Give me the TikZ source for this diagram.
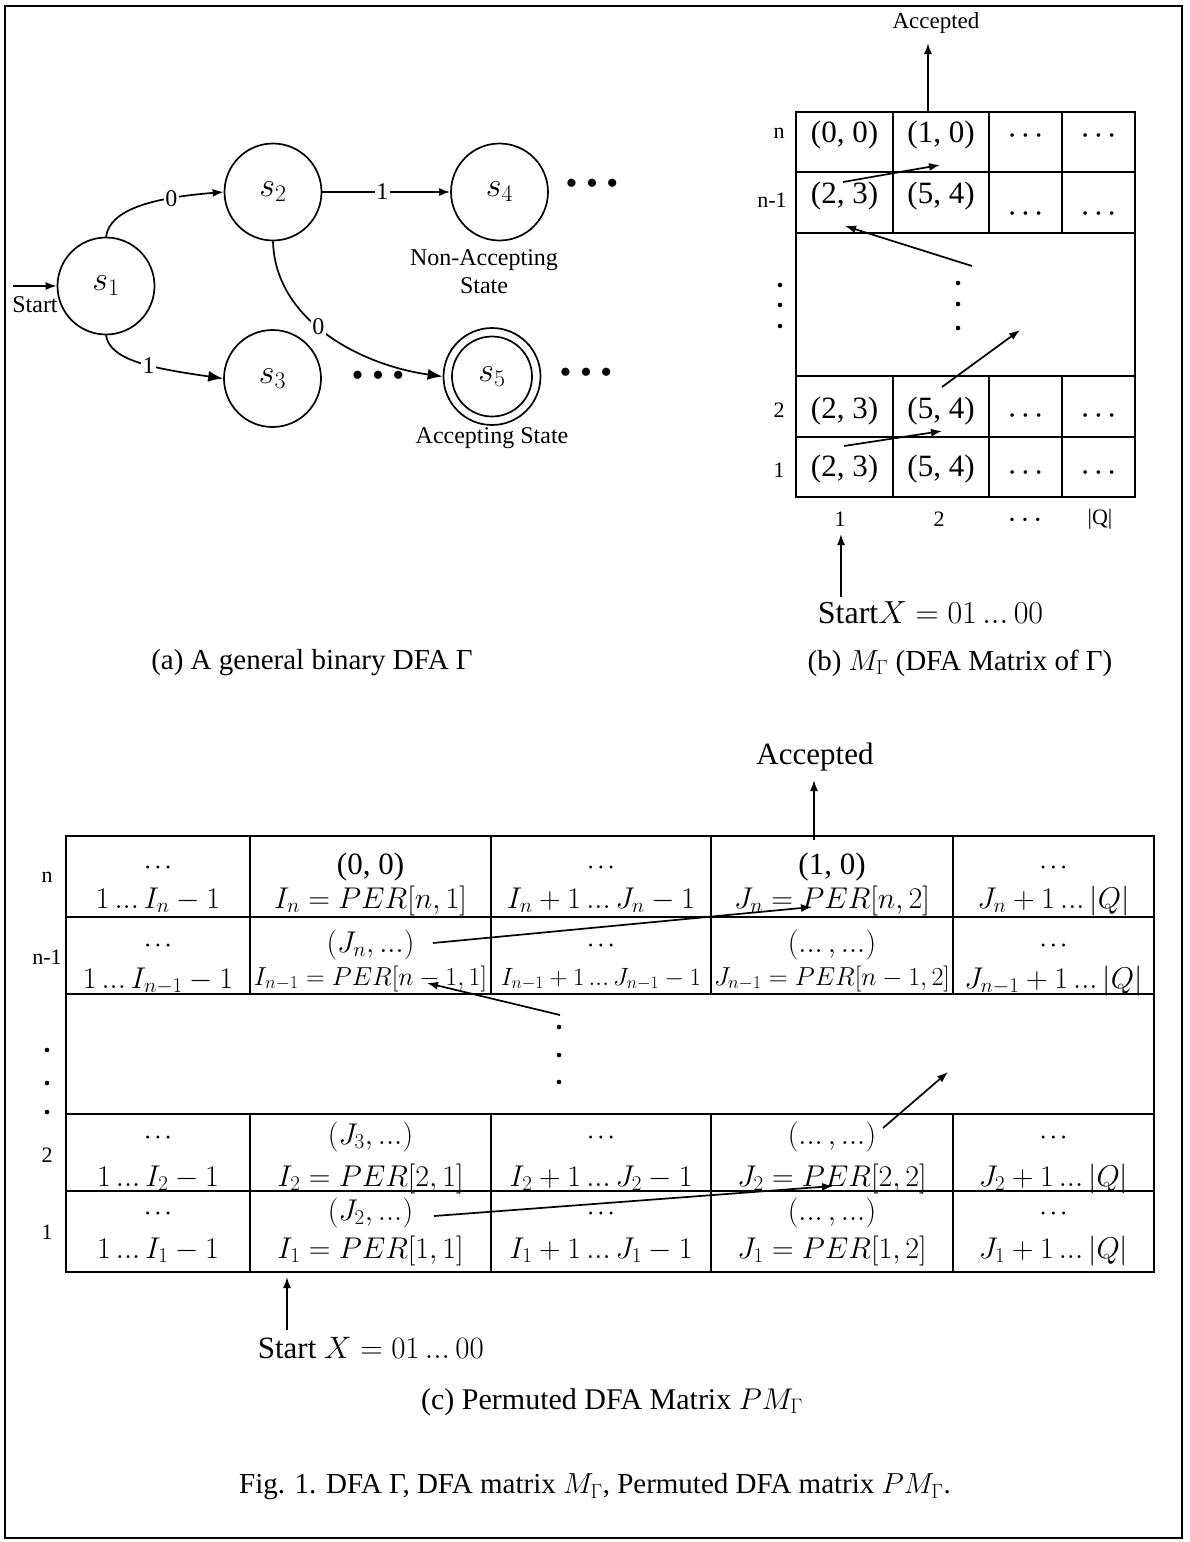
\documentclass[tikz,border=0pt]{standalone}
\usepackage{fix-cm}
\usepackage{fontspec}
\setmainfont{Liberation Serif}
\usetikzlibrary{arrows.meta}
\newcommand\fsz[1]{\fontsize{#1}{#1}\selectfont}
\newcommand\eld{\mathinner{{.}{.}{.}}}
\newcommand\hd[2]{{\fontsize{#1}{#1}\selectfont •\hspace{#2}•\hspace{#2}•}}
\begin{document}
\begin{tikzpicture}[x=1pt,y=-1pt,line width=1.7pt,
  stnode/.style={draw,circle,minimum size=97pt,inner sep=0pt,font=\fsz{34}},
  txt/.style={font=\fsz{24},inner sep=1pt},
  elbl/.style={font=\fsz{24},fill=white,inner sep=1.5pt},
  captn/.style={font=\fsz{29}},
  rl/.style={font=\fsz{22}},
  ce/.style={font=\fsz{31},anchor=base},
  mb/.style={font=\fsz{30},anchor=base},
  sm/.style={font=\fsz{26},anchor=base},
  bd/.style={anchor=base,inner sep=0pt},
  sarr/.style={-{Latex[length=11pt,width=8pt]}},
  barr/.style={-{Latex[length=15pt,width=11pt]}},
  gridl/.style={line width=1.4pt},
  dotn/.style={fill=black,circle,inner sep=0pt,minimum size=4.6pt}]
\useasboundingbox (0,0) rectangle (1189,1542);
\draw[line width=1.5pt] (5,6) rectangle (1182,1538);

% ---------- (a) DFA ----------
\node[stnode] (s1) at (106,286) {$s_1$};
\node[stnode] (s2) at (273,192) {$s_2$};
\node[stnode] (s3) at (272.5,378.5) {$s_3$};
\node[stnode] (s4) at (499.5,192) {$s_4$};
\node[stnode] (s5) at (492,376.5) {$s_5$};
\draw (s5.center) circle[radius=40];
\coordinate (st) at (13,286);
\draw[sarr] (st) -- (s1.west);
\node[txt] (stl) at (35,305) {Start};
\draw[sarr] (s1.north) .. controls (110,210) and (150,198) .. (s2.west) node[pos=0.73,elbl] {0};
\draw[barr] (s1.south) .. controls (110,360) and (150,368) .. (s3.west) node[pos=0.58,elbl] {1};
\draw[barr] (s2.south) .. controls (275,320) and (360,365) .. (s5.west) node[pos=0.45,elbl] {0};
\draw[sarr] (s2.east) -- (s4.west) node[pos=0.47,elbl] {1};
\node[font=\fsz{34}] (d4) at (592,187) {• • •};
\node[font=\fsz{34}] (d3) at (378,379) {• • •};
\node[font=\fsz{34}] (d5) at (586,376) {• • •};
\node[font=\fontsize{24}{28}\selectfont,align=center] (na) at (484,272) {Non-Accepting\\State};
\node[txt] (ac) at (492,438) {Accepting State};
\node[captn] (capa) at (312,663) {(a) A general binary DFA Γ};

% ---------- (b) DFA matrix ----------
\draw[gridl] (796,112) rectangle (1135,497);
\foreach \y in {172,233,376,437} \draw[gridl] (796,\y) -- (1135,\y);
\foreach \x in {893,989,1062} {\draw[gridl] (\x,112) -- (\x,233); \draw[gridl] (\x,376) -- (\x,497);}
\node[ce] (b11) at (844.5,142) {(0, 0)};
\node[ce] (b12) at (941,142) {(1, 0)};
\node[bd] (b13) at (1025.5,140) {\hd{15}{8pt}};
\node[bd] (b14) at (1098.5,140) {\hd{15}{8pt}};
\node[ce] (b21) at (844.5,203) {(2, 3)};
\node[ce] (b22) at (941,203) {(5, 4)};
\node[bd] (b23) at (1025.5,218) {\hd{15}{8pt}};
\node[bd] (b24) at (1098.5,218) {\hd{15}{8pt}};
\node[ce] (b31) at (844.5,418) {(2, 3)};
\node[ce] (b32) at (941,418) {(5, 4)};
\node[bd] (b33) at (1025.5,420) {\hd{15}{8pt}};
\node[bd] (b34) at (1098.5,420) {\hd{15}{8pt}};
\node[ce] (b41) at (844.5,476) {(2, 3)};
\node[ce] (b42) at (941,476) {(5, 4)};
\node[bd] (b43) at (1025.5,477) {\hd{15}{8pt}};
\node[bd] (b44) at (1098.5,477) {\hd{15}{8pt}};
\node[rl] (bln) at (779,133) {n};
\node[rl] (bln1) at (772,200) {n-1};
\node[rl] (bl2) at (779,410) {2};
\node[rl] (bl1) at (779,470) {1};
\node[rl] (bc1) at (840,519) {1};
\node[rl] (bc2) at (939,519) {2};
\node[bd] (bc3) at (1025,524) {\hd{14}{8pt}};
\node[rl] (bc4) at (1100,519) {|Q|};
\foreach \y [count=\i] in {285,305,326} \node[dotn] (bvl\i) at (780,\y) {};
\foreach \y [count=\i] in {283,304,328} \node[dotn] (bvm\i) at (958,\y) {};
\coordinate (ba1s) at (844,446); \coordinate (ba1e) at (942,431);
\coordinate (ba2s) at (942,387); \coordinate (ba2e) at (1020,330);
\coordinate (ba3s) at (972,266); \coordinate (ba3e) at (845,226);
\coordinate (ba4s) at (843,182); \coordinate (ba4e) at (940,165);
\draw[sarr] (ba1s) -- (ba1e);
\draw[sarr] (ba2s) -- (ba2e);
\draw[sarr] (ba3s) -- (ba3e);
\draw[sarr] (ba4s) -- (ba4e);
\node[font=\fsz{23}] (bacc) at (936,23) {Accepted};
\coordinate (bacs) at (928,113); \coordinate (bace) at (928,43);
\draw[sarr] (bacs) -- (bace);
\node[font=\fsz{32},anchor=base west,inner sep=0pt] (bst) at (817,623) {Start$X = 01\eld00$};
\coordinate (bsts) at (841,597); \coordinate (bste) at (841,534);
\draw[sarr] (bsts) -- (bste);
\node[captn] (capb) at (960,663) {(b) $M_\Gamma$ (DFA Matrix of Γ)};

% ---------- (c) Permuted DFA matrix ----------
\draw[gridl] (66,836) rectangle (1154,1272);
\foreach \y in {917,994,1114,1191} \draw[gridl] (66,\y) -- (1154,\y);
\foreach \x in {250,491,711,953} {\draw[gridl] (\x,836) -- (\x,994); \draw[gridl] (\x,1114) -- (\x,1272);}
% row n
\node[bd] (c11t) at (158,871) {\hd{12}{6pt}};
\node[mb] (c11b) at (158,908) {$1\eld I_n - 1$};
\node[ce] (c12t) at (370.5,874) {(0, 0)};
\node[mb] (c12b) at (370.5,908) {$I_n = PER[n, 1]$};
\node[bd] (c13t) at (601,871) {\hd{12}{6pt}};
\node[mb] (c13b) at (601,908) {$I_n + 1\eld J_n - 1$};
\node[ce] (c14t) at (832,874) {(1, 0)};
\node[mb] (c14b) at (832,908) {$J_n = PER[n, 2]$};
\node[bd] (c15t) at (1053.5,871) {\hd{12}{6pt}};
\node[mb] (c15b) at (1053.5,908) {$J_n + 1\eld |Q|$};
% row n-1
\node[bd] (c21t) at (158,949) {\hd{12}{6pt}};
\node[mb] (c21b) at (158,988) {$1\eld I_{n-1} - 1$};
\node[mb] (c22t) at (370.5,952) {$(J_n, \eld)$};
\node[sm] (c22b) at (370.5,985) {$I_{n-1} = PER[n-1,1]$};
\node[bd] (c23t) at (601,949) {\hd{12}{6pt}};
\node[font=\fsz{25},anchor=base] (c23b) at (601,985) {$I_{n-1} + 1\eld J_{n-1} - 1$};
\node[mb] (c24t) at (832,952) {$(\eld, \eld)$};
\node[sm] (c24b) at (832,985) {$J_{n-1} = PER[n-1,2]$};
\node[bd] (c25t) at (1053.5,949) {\hd{12}{6pt}};
\node[mb] (c25b) at (1053.5,988) {$J_{n-1} + 1\eld |Q|$};
% row 2
\node[bd] (c31t) at (158,1141) {\hd{12}{6pt}};
\node[mb] (c31b) at (158,1186) {$1\eld I_2 - 1$};
\node[mb] (c32t) at (370.5,1144) {$(J_3, \eld)$};
\node[mb] (c32b) at (370.5,1186) {$I_2 = PER[2,1]$};
\node[bd] (c33t) at (601,1141) {\hd{12}{6pt}};
\node[mb] (c33b) at (601,1186) {$I_2 + 1\eld J_2 - 1$};
\node[mb] (c34t) at (832,1144) {$(\eld, \eld)$};
\node[mb] (c34b) at (832,1186) {$J_2 = PER[2,2]$};
\node[bd] (c35t) at (1053.5,1141) {\hd{12}{6pt}};
\node[mb] (c35b) at (1053.5,1186) {$J_2 + 1\eld |Q|$};
% row 1
\node[bd] (c41t) at (158,1217) {\hd{12}{6pt}};
\node[mb] (c41b) at (158,1258) {$1\eld I_1 - 1$};
\node[mb] (c42t) at (370.5,1220) {$(J_2, \eld)$};
\node[mb] (c42b) at (370.5,1258) {$I_1 = PER[1,1]$};
\node[bd] (c43t) at (601,1217) {\hd{12}{6pt}};
\node[mb] (c43b) at (601,1258) {$I_1 + 1\eld J_1 - 1$};
\node[mb] (c44t) at (832,1220) {$(\eld, \eld)$};
\node[mb] (c44b) at (832,1258) {$J_1 = PER[1,2]$};
\node[bd] (c45t) at (1053.5,1217) {\hd{12}{6pt}};
\node[mb] (c45b) at (1053.5,1258) {$J_1 + 1\eld |Q|$};
% row labels and vertical dots
\node[rl] (cln) at (47,877) {n};
\node[rl] (cln1) at (47,957) {n-1};
\node[rl] (cl2) at (47,1155) {2};
\node[rl] (cl1) at (47,1232) {1};
\foreach \y [count=\i] in {1050,1083,1112} \node[dotn] (cvl\i) at (47,\y) {};
\foreach \y [count=\i] in {1027,1055,1082} \node[dotn] (cvm\i) at (559,\y) {};
% arrows
\coordinate (ca1s) at (433,943); \coordinate (ca1e) at (812,907);
\coordinate (ca2s) at (560,1015); \coordinate (ca2e) at (427,983);
\coordinate (ca3s) at (883,1128); \coordinate (ca3e) at (948,1072);
\coordinate (ca4s) at (434,1216); \coordinate (ca4e) at (833,1186);
\draw[sarr] (ca1s) -- (ca1e);
\draw[sarr] (ca2s) -- (ca2e);
\draw[sarr] (ca3s) -- (ca3e);
\draw[sarr] (ca4s) -- (ca4e);
\node[font=\fsz{31}] (cacc) at (815,757) {Accepted};
\coordinate (cacs) at (814,840); \coordinate (cace) at (814,780);
\draw[sarr] (cacs) -- (cace);
\node[font=\fsz{31},anchor=base west,inner sep=0pt] (cst) at (257,1358) {Start $X = 01\eld00$};
\coordinate (csts) at (287,1330); \coordinate (cste) at (287,1277);
\draw[sarr] (csts) -- (cste);
\node[font=\fsz{30}] (capc) at (612,1402) {(c) Permuted DFA Matrix $PM_\Gamma$};
\node[captn] (fig) at (595,1487) {Fig. 1. DFA Γ, DFA matrix $M_\Gamma$, Permuted DFA matrix $PM_\Gamma$.};
\end{tikzpicture}
\end{document}
